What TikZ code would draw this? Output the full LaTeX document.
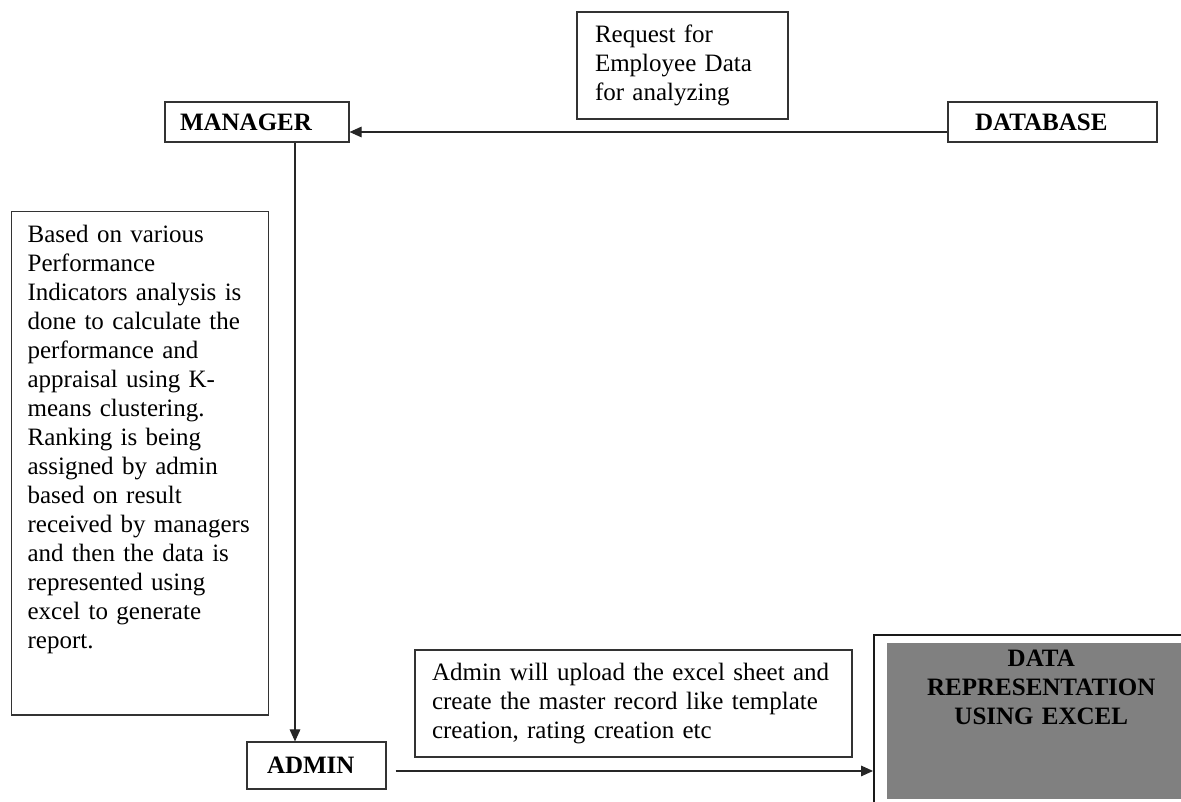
\documentclass[tikz,border=0pt]{standalone}
\usepackage{fontspec}
\setmainfont{Liberation Serif}
\usepackage{tikz}
\usetikzlibrary{arrows.meta}

\begin{document}
\begin{tikzpicture}[
    x=0.75pt, y=-0.75pt,
    font=\fontsize{18.75}{21.75}\selectfont,
    actor/.style={rectangle, draw=black!80, line width=0.9pt, align=left, minimum height=30pt, font=\fontsize{18.75}{21.75}\selectfont\bfseries},
    note/.style={rectangle, draw=black!80, line width=0.9pt, align=left},
    arrow/.style={-{Triangle[length=9pt,width=8pt]}, line width=0.8pt, black!85}
]
    \useasboundingbox (0,0) rectangle (1181,801);

    \node[actor, text width=115.5pt, inner xsep=11.25pt] (mgr) at (257,122) {MANAGER};
    \node[actor, text width=116.25pt, inner xsep=20.25pt] (dbase) at (1052.5,122) {DATABASE};
    \node[actor, text width=74.25pt, inner xsep=15pt, minimum height=35.25pt] (admin) at (316.5,765.5) {ADMIN};
    \node[note, text width=131.25pt, inner xsep=13.5pt, minimum height=80.25pt] (req) at (682.5,65.5)
        {Request for\\Employee Data\\for analyzing};
    \node[note, anchor=north west, text width=168.75pt, inner xsep=12pt, inner ysep=10.5pt] (kpi) at (11,211)
        {Based on various\\Performance\\Indicators analysis is\\done to calculate the\\performance and\\appraisal using K-\\means clustering.\\Ranking is being\\assigned by admin\\based on result\\received by managers\\and then the data is\\represented using\\excel to generate\\report.\rule[-39pt]{0pt}{1pt}};
    \node[note, text width=302.25pt, inner xsep=12.75pt, minimum height=80.25pt] (upload) at (633.5,703.5)
        {Admin will upload the excel sheet and\\create the master record like template\\creation, rating creation etc};
    \node[note, draw=black!90, line width=1.4pt, fill=white, anchor=north west, minimum width=247.5pt, minimum height=138.75pt] (show) at (873,634) {};
    \node[rectangle, fill=black!50, anchor=north west, text width=221pt, inner xsep=5pt, inner ysep=5.25pt, align=center,
        font=\fontsize{18.75}{21.75}\selectfont\bfseries] (excel) at (887,643)
        {DATA\\REPRESENTATION\\USING EXCEL\rule[-50.6pt]{0pt}{1pt}};

    \coordinate (out) at ([xshift=6.75pt,yshift=-4.1pt]admin.east);
    \draw[arrow] ([yshift=-7.5pt]dbase.west) -- ([yshift=-7.5pt]mgr.east);
    \draw[arrow] ([xshift=28.5pt]mgr.south) -- ([xshift=28.5pt]mgr.south |- admin.north);
    \draw[arrow] (out) -- (out -| show.west);
\end{tikzpicture}
\end{document}
